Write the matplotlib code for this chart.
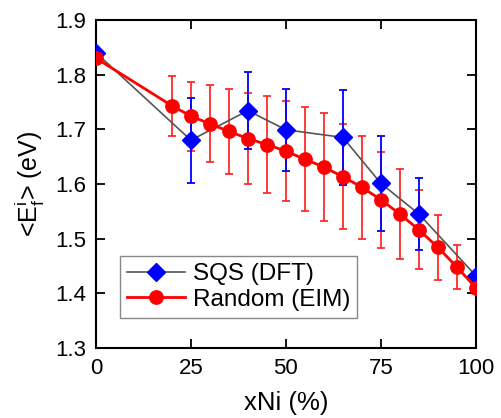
import numpy as np
import matplotlib
matplotlib.use("Agg")
import matplotlib.pyplot as plt

plt.rcParams['font.family'] = ['Liberation Sans', 'DejaVu Sans']
plt.rcParams['mathtext.fontset'] = 'custom'
plt.rcParams['mathtext.rm'] = 'Liberation Sans'
plt.rcParams['mathtext.it'] = 'Liberation Sans'

# SQS (DFT) data
sqs_x = [0, 25, 40, 50, 65, 75, 85, 100]
sqs_y = [1.840, 1.680, 1.734, 1.699, 1.685, 1.601, 1.545, 1.432]
sqs_err = [0, 0.078, 0.071, 0.075, 0.087, 0.087, 0.065, 0]

# Random (EIM) data
rnd_x = [0, 20, 25, 30, 35, 40, 45, 50, 55, 60, 65, 70, 75, 80, 85, 90, 95, 100]
rnd_y = [1.830, 1.743, 1.724, 1.710, 1.696, 1.683, 1.672, 1.660, 1.645, 1.631,
         1.613, 1.594, 1.571, 1.545, 1.516, 1.484, 1.448, 1.410]
rnd_err = [0, 0.055, 0.063, 0.070, 0.077, 0.083, 0.088, 0.092, 0.095, 0.098,
           0.096, 0.094, 0.088, 0.083, 0.072, 0.059, 0.041, 0]

xticks = [0, 25, 50, 75, 100]
yticks = [1.3, 1.4, 1.5, 1.6, 1.7, 1.8, 1.9]

fig = plt.figure(figsize=(5.02, 4.18), dpi=100)
ax = fig.add_axes([0.191, 0.1675, 0.757, 0.785])

# error bars
ax.errorbar(rnd_x, rnd_y, yerr=rnd_err, fmt='none', ecolor='#ff2a2a',
            elinewidth=1.3, capsize=3.2, capthick=1.3, zorder=2)
ax.errorbar(sqs_x, sqs_y, yerr=sqs_err, fmt='none', ecolor='#0000ff',
            elinewidth=1.3, capsize=3.2, capthick=1.3, zorder=2.5)

ax.plot(sqs_x, sqs_y, color='#555555', lw=1.2, marker='D', ms=8.7,
        mfc='#0000ff', mec='#0000ff', label='SQS (DFT)', zorder=4)
ax.plot(rnd_x, rnd_y, color='#ff0000', lw=2.0, marker='o', ms=9.6,
        mfc='#ff0000', mec='#ff0000', label='Random (EIM)', zorder=5)

ax.set_xlim(0, 100)
ax.set_ylim(1.3, 1.9)
ax.set_xticks(xticks)
ax.set_yticks(yticks)
ax.set_yticklabels([f"{v:.1f}" for v in yticks])
ax.tick_params(direction='in', length=6.5, width=1.3, labelsize=16,
               top=True, right=True, pad=7)
for sp in ax.spines.values():
    sp.set_linewidth(1.5)

ax.set_xlabel('xNi (%)', fontsize=18.5, labelpad=9)
ax.set_ylabel(r'<E$_\mathregular{f}^\mathregular{i}$> (eV)', fontsize=18, labelpad=6)

leg = ax.legend(loc='lower left', bbox_to_anchor=(0.063, 0.0915), borderaxespad=0,
                fontsize=17.5, handlelength=2.4, fancybox=False, framealpha=1,
                edgecolor='#888888', borderpad=0.3, labelspacing=0.15,
                handletextpad=0.3)
leg.get_frame().set_linewidth(1.0)
leg.set_zorder(10)

fig.savefig('out.png', dpi=100)
